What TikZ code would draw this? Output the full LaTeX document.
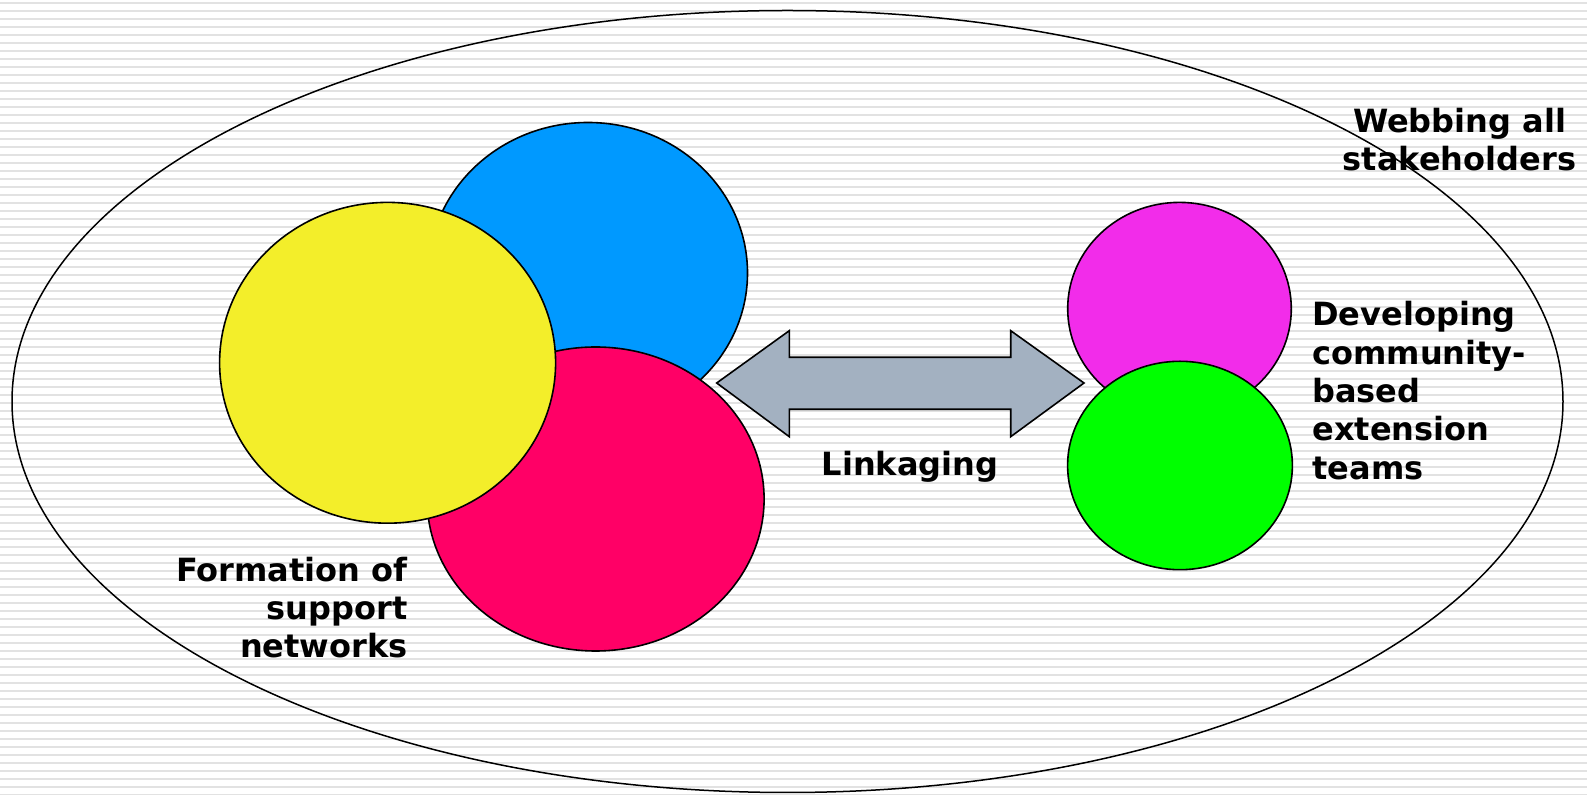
\documentclass[tikz,border=0pt]{standalone}
\usepackage{fontspec}
\setmainfont{DejaVu Sans}
\usetikzlibrary{shapes.geometric}
\definecolor{cblue}{HTML}{0099FF}
\definecolor{cyellow}{HTML}{F3EE2A}
\definecolor{cred}{HTML}{FF0066}
\definecolor{cmag}{HTML}{F22CEA}
\definecolor{cgreen}{HTML}{00FF00}
\definecolor{carrow}{HTML}{A3B1C1}
\definecolor{cstripe}{HTML}{E2E2E2}
\begin{document}
\begin{tikzpicture}[x=0.5pt,y=-0.5pt,
  stripe/.style={draw=cstripe,line width=1pt},
  blob/.style={ellipse,draw=black,line width=0.8pt,inner sep=0pt,outer sep=0pt},
  lbl/.style={inner sep=0pt,font=\bfseries\fontsize{16}{18.7}\selectfont,text=black},
  linkarrow/.style={draw=black,fill=carrow,line width=0.8pt,line join=miter}]
\useasboundingbox (0,0) rectangle (1587,795);
\fill[white] (0,0) rectangle (1587,795);
\foreach \k in {0,...,99} \draw[stripe] (0,3.5+8*\k) -- (1587,3.5+8*\k);
% outer ellipse
\node[blob,line width=0.75pt,minimum width=775.5pt,minimum height=391pt] (outer) at (787.5,401.5) {};
% left cluster
\node[blob,fill=cblue,minimum width=159.5pt,minimum height=150.5pt] (blue) at (588,273) {};
\node[blob,fill=cred,minimum width=168.5pt,minimum height=152pt] (red) at (595.6,499) {};
\node[blob,fill=cyellow,minimum width=168pt,minimum height=160.4pt] (yellow) at (387.6,362.8) {};
% right cluster
\node[blob,fill=cmag,minimum width=111.8pt,minimum height=106.3pt] (mag) at (1179.5,308.7) {};
\node[blob,fill=cgreen,minimum width=112.4pt,minimum height=104.2pt] (green) at (1180,465.5) {};
% double arrow
\coordinate (tipL) at (716.7,383);
\coordinate (tipR) at (1084,383);
\draw[linkarrow] (tipL) -- (789.3,330.7) -- (789.3,357.3) -- (1010.7,357.3) -- (1010.7,330.7)
  -- (tipR) -- (1010.7,436.7) -- (1010.7,409.3) -- (789.3,409.3) -- (789.3,436.7) -- cycle;
% labels
\node[lbl,align=center] (web) at (1459.5,139.5) {Webbing all\\stakeholders};
\node[lbl,align=left,anchor=west,font=\bfseries\fontsize{16}{19.2}\selectfont] (dev) at (1312,390.5) {Developing\\community-\\based\\extension\\teams};
\node[lbl,align=right,anchor=east,font=\bfseries\fontsize{16}{19}\selectfont] (form) at (408,607.5) {Formation of\\support\\networks};
\node[lbl,anchor=base] (link) at (910,476) {Linkaging};
\end{tikzpicture}
\end{document}
